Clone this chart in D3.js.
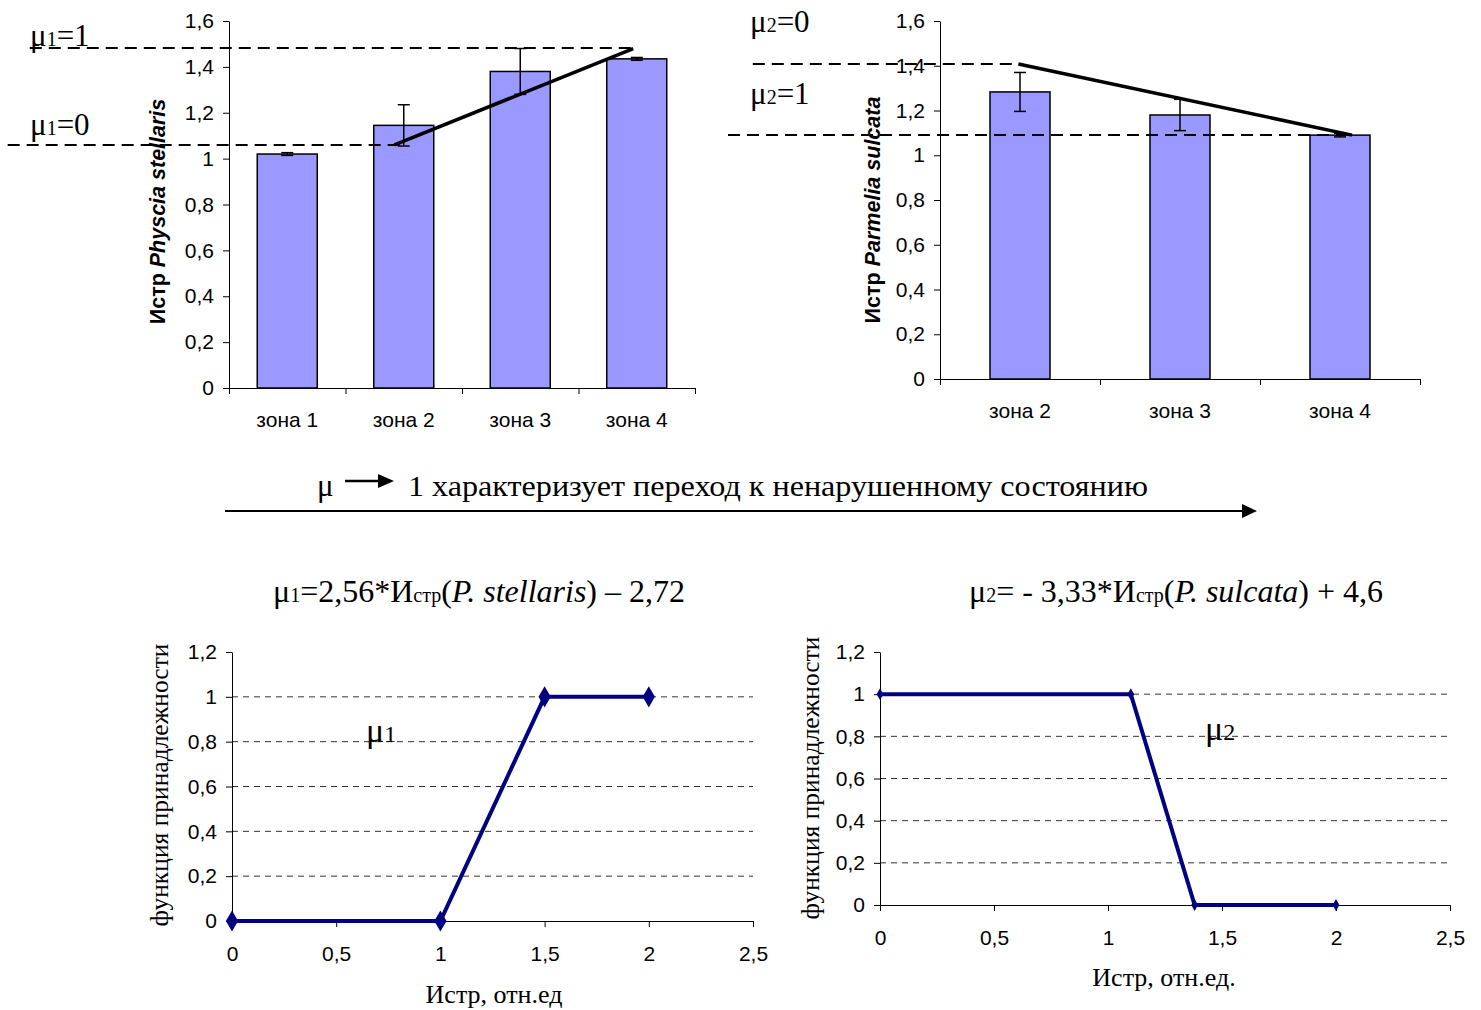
<!DOCTYPE html>
<html lang="ru">
<head>
<meta charset="UTF-8" />
<title>Istr charts</title>
<script src="https://cdn.jsdelivr.net/npm/d3@7"></script>
<style>
  body { margin: 0; background: #fff; }
  .tick text { font-family: "Liberation Sans", Arial, sans-serif; font-size: 21px; fill: #000; }
  .tick line, .domain { stroke: #000; }
  .serif { font-family: "Liberation Serif", "Times New Roman", serif; fill: #000; }
  .sans { font-family: "Liberation Sans", Arial, sans-serif; fill: #000; }
</style>
</head>
<body>
<script>
// --- data ---
var zones1 = ["зона 1", "зона 2", "зона 3", "зона 4"];
var physcia = [1.02, 1.145, 1.38, 1.435];
var physciaErr = [0.006, 0.09, 0.1, 0.006];

var zones2 = ["зона 2", "зона 3", "зона 4"];
var parmelia = [1.283, 1.18, 1.09];
var parmeliaErr = [0.087, 0.07, 0.008];

var barTicks = [0, 0.2, 0.4, 0.6, 0.8, 1, 1.2, 1.4, 1.6];

// threshold lines: [value, from index, to index] (index in category units)
var mu1Lines = [[1.482, -1.71, 3.45], [1.059, -1.90, 1.47]];
var mu1Trend = [[1.42, 1.06], [3.47, 1.48]];
var mu2Lines = [[1.408, -1.17, 0.45], [1.09, -1.325, 2.56]];
var mu2Trend = [[0.49, 1.408], [2.575, 1.09]];

var memb1 = [[0, 0], [1, 0], [1.5, 1], [2, 1]];
var memb2 = [[0, 1], [1.1, 1], [1.38, 0], [2, 0]];
var membYTicks = [0, 0.2, 0.4, 0.6, 0.8, 1, 1.2];
var membXTicks = [0, 0.5, 1, 1.5, 2, 2.5];

var comma = function(d) { return String(+d.toFixed(2)).replace(".", ","); };

var svg = d3.select("body").append("svg")
  .attr("width", 1481).attr("height", 1010);

// --- bar chart with error bars ---
function barChart(o) {
  var n = o.cats.length;
  var y = d3.scaleLinear().domain([0, 1.6]).range([o.bottom, o.top]);
  var xi = d3.scaleLinear().domain([0, n]).range([o.left, o.right]);
  var xb = d3.scaleBand().domain(o.cats).range([o.left, o.right]);
  var g = svg.append("g");

  g.append("g").attr("transform", "translate(" + o.left + ",0)")
    .call(d3.axisLeft(y).tickValues(barTicks).tickFormat(comma).tickSize(6).tickSizeOuter(0).tickPadding(9));
  g.append("g").attr("transform", "translate(0," + o.bottom + ")")
    .call(d3.axisBottom(xi).tickValues(d3.range(n + 1)).tickFormat("").tickSize(6).tickSizeOuter(0));
  g.append("g").attr("transform", "translate(0," + o.bottom + ")")
    .call(d3.axisBottom(xb).tickSize(0).tickPadding(o.labelPad))
    .call(function(s) { s.select(".domain").remove(); });

  g.selectAll("rect.bar").data(o.vals).enter().append("rect")
    .attr("class", "bar")
    .attr("x", function(d, i) { return xb(o.cats[i]) + xb.bandwidth() / 2 - o.barW / 2; })
    .attr("width", o.barW)
    .attr("y", function(d) { return y(d); })
    .attr("height", function(d) { return o.bottom - y(d); })
    .attr("fill", "#9999ff").attr("stroke", "#000").attr("stroke-width", 1.5);

  var eb = g.selectAll("g.err").data(o.vals).enter().append("g")
    .attr("transform", function(d, i) { return "translate(" + (xb(o.cats[i]) + xb.bandwidth() / 2) + ",0)"; })
    .attr("stroke", "#000").attr("stroke-width", 1.5);
  eb.append("line").attr("y1", function(d, i) { return y(d - o.err[i]); })
    .attr("y2", function(d, i) { return y(d + o.err[i]); });
  eb.append("line").attr("x1", -6).attr("x2", 6)
    .attr("y1", function(d, i) { return y(d - o.err[i]); }).attr("y2", function(d, i) { return y(d - o.err[i]); });
  eb.append("line").attr("x1", -6).attr("x2", 6)
    .attr("y1", function(d, i) { return y(d + o.err[i]); }).attr("y2", function(d, i) { return y(d + o.err[i]); });

  g.selectAll("line.thr").data(o.lines).enter().append("line")
    .attr("x1", function(d) { return xi(d[1]); }).attr("x2", function(d) { return xi(d[2]); })
    .attr("y1", function(d) { return y(d[0]); }).attr("y2", function(d) { return y(d[0]); })
    .attr("stroke", "#000").attr("stroke-width", 2).attr("stroke-dasharray", "12,7");

  g.append("path").datum(o.trend)
    .attr("d", d3.line().x(function(d) { return xi(d[0]); }).y(function(d) { return y(d[1]); }))
    .attr("stroke", "#000").attr("stroke-width", 3.5).attr("fill", "none");

  var t = g.append("text").attr("class", "sans")
    .attr("transform", "translate(" + o.titleX + "," + ((o.top + o.bottom) / 2 + o.titleDy) + ") rotate(-90)")
    .attr("text-anchor", "middle").attr("font-size", 21.5).attr("font-weight", "bold");
  t.append("tspan").text("Истр ");
  t.append("tspan").attr("font-style", "italic").text(o.species);

  o.muLabels.forEach(function(m) {
    var tx = g.append("text").attr("class", "serif").attr("x", m[0]).attr("y", m[1]).attr("font-size", 31);
    tx.append("tspan").text("μ");
    tx.append("tspan").attr("font-size", 20).text(m[2]);
    tx.append("tspan").text(m[3]);
  });
}

barChart({
  cats: zones1, vals: physcia, err: physciaErr,
  left: 229, right: 695, top: 21, bottom: 388, barW: 60, labelPad: 24,
  lines: mu1Lines, trend: mu1Trend, titleX: 165, titleDy: 7,
  species: "Physcia stellaris",
  muLabels: [[30, 46, "1", "=1"], [30, 135, "1", "=0"]]
});
barChart({
  cats: zones2, vals: parmelia, err: parmeliaErr,
  left: 940, right: 1420, top: 21, bottom: 379, barW: 60, labelPad: 24,
  lines: mu2Lines, trend: mu2Trend, titleX: 880, titleDy: 10,
  species: "Parmelia sulcata",
  muLabels: [[750, 32, "2", "=0"], [750, 104, "2", "=1"]]
});

// --- middle caption with arrows ---
var mid = svg.append("g");
mid.append("text").attr("class", "serif").attr("x", 317).attr("y", 496).attr("font-size", 31).text("μ");
mid.append("line").attr("x1", 345).attr("x2", 380).attr("y1", 481).attr("y2", 481).attr("stroke", "#000").attr("stroke-width", 2.5);
mid.append("path").attr("d", "M378,474 L394,481 L378,488 Z").attr("fill", "#000");
mid.append("text").attr("class", "serif").attr("x", 408).attr("y", 496).attr("font-size", 30)
  .attr("textLength", 740).attr("lengthAdjust", "spacingAndGlyphs")
  .text("1 характеризует переход к ненарушенному состоянию");
mid.append("line").attr("x1", 225).attr("x2", 1243).attr("y1", 511).attr("y2", 511).attr("stroke", "#000").attr("stroke-width", 2);
mid.append("path").attr("d", "M1242,504 L1257,511 L1242,518 Z").attr("fill", "#000");

// --- membership function charts ---
function membChart(o) {
  var x = d3.scaleLinear().domain([0, 2.5]).range([o.left, o.right]);
  var y = d3.scaleLinear().domain([0, 1.2]).range([o.bottom, o.top]);
  var g = svg.append("g");

  g.selectAll("line.grid").data(membYTicks.filter(function(d) { return d > 0 && d < 1.2; })).enter().append("line")
    .attr("x1", o.left).attr("x2", o.right)
    .attr("y1", function(d) { return y(d); }).attr("y2", function(d) { return y(d); })
    .attr("stroke", "#333").attr("stroke-width", 1).attr("stroke-dasharray", "6,5");

  g.append("g").attr("transform", "translate(" + o.left + ",0)")
    .call(d3.axisLeft(y).tickValues(membYTicks).tickFormat(comma).tickSize(6).tickSizeOuter(0).tickPadding(9));
  g.append("g").attr("transform", "translate(0," + o.bottom + ")")
    .call(d3.axisBottom(x).tickValues(membXTicks).tickFormat(comma).tickSize(6).tickSizeOuter(0).tickPadding(o.xPad));

  g.append("path").datum(o.pts)
    .attr("d", d3.line().x(function(d) { return x(d[0]); }).y(function(d) { return y(d[1]); }))
    .attr("stroke", "#000080").attr("stroke-width", 4).attr("fill", "none");
  g.selectAll("path.mk").data(o.pts).enter().append("path")
    .attr("d", d3.symbol(d3.symbolDiamond, o.mk))
    .attr("transform", function(d) { return "translate(" + x(d[0]) + "," + y(d[1]) + ")"; })
    .attr("fill", "#000080");

  var tt = g.append("text").attr("class", "serif").attr("x", o.titleX).attr("y", 602)
    .attr("text-anchor", "middle").attr("font-size", 32);
  o.title.forEach(function(p) {
    var s = tt.append("tspan").text(p[0]);
    if (p[1] === "sub") s.attr("font-size", 20);
    if (p[1] === "it") s.attr("font-style", "italic");
  });

  var mu = g.append("text").attr("class", "serif").attr("x", o.mu[0]).attr("y", o.mu[1]).attr("font-size", 34);
  mu.append("tspan").text("μ");
  mu.append("tspan").attr("font-size", 24).text(o.mu[2]);

  g.append("text").attr("class", "serif")
    .attr("transform", "translate(" + o.yTitleX + "," + o.yTitleY + ") rotate(-90)")
    .attr("text-anchor", "middle").attr("font-size", 25.5).text("функция принадлежности");
  g.append("text").attr("class", "serif").attr("x", o.xTitle[0]).attr("y", o.xTitle[1])
    .attr("text-anchor", "middle").attr("font-size", 26).text(o.xTitle[2]);
}

membChart({
  left: 232, right: 753, top: 652, bottom: 921, xPad: 19, pts: memb1, mk: 130,
  titleX: 479, title: [["μ"], ["1", "sub"], ["=2,56*И"], ["стр", "sub"], ["("], ["P. stellaris", "it"], [") – 2,72"]],
  mu: [366, 742, "1"], yTitleX: 168, yTitleY: 785, xTitle: [494, 1003, "Истр, отн.ед"]
});
membChart({
  left: 880, right: 1450, top: 652, bottom: 905, xPad: 19, pts: memb2, mk: 40,
  titleX: 1176, title: [["μ"], ["2", "sub"], ["= - 3,33*И"], ["стр", "sub"], ["("], ["P. sulcata", "it"], [") + 4,6"]],
  mu: [1205, 740, "2"], yTitleX: 819, yTitleY: 778, xTitle: [1164, 986, "Истр, отн.ед."]
});
</script>
</body>
</html>
